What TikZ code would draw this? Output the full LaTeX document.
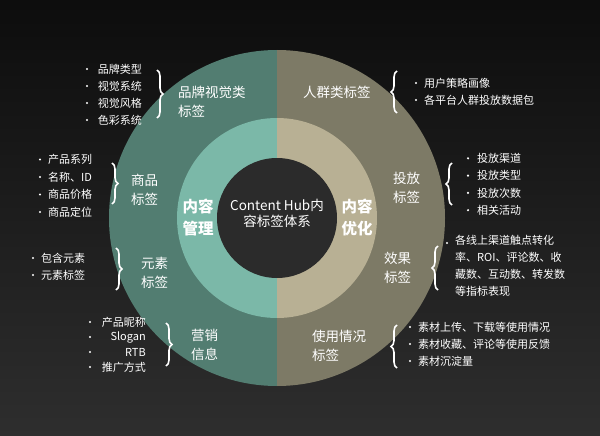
\documentclass[tikz,border=0pt]{standalone}
\usepackage{fontspec}
\setmainfont{Noto Sans CJK SC}
\usetikzlibrary{decorations.pathreplacing, positioning}
\definecolor{outerL}{HTML}{527D71}
\definecolor{outerR}{HTML}{7D7A66}
\definecolor{innerL}{HTML}{7BB8A8}
\definecolor{innerR}{HTML}{B8B094}
\definecolor{hubC}{HTML}{2B2B2B}
\tikzset{
  ringlabel/.style={text=white, font=\fontsize{13.5}{19}\selectfont, align=left, inner sep=0pt},
  item/.style={text=white, font=\fontsize{11}{12}\selectfont, inner sep=0pt},
  dot/.style={circle, fill=white, minimum size=2.4pt, inner sep=0pt},
  bracel/.style={draw=white, line width=1.6pt, decorate, decoration={brace, amplitude=6pt}},
}
\begin{document}
\begin{tikzpicture}[x=1pt, y=-1pt]
  % background
  \shade[top color=black!95, bottom color=black!82] (0,0) rectangle (600,436);
  \useasboundingbox (0,0) rectangle (600,436);

  % rings
  \fill[outerL] (277,50) arc[start angle=-90, end angle=-270, radius=168] -- cycle;
  \fill[outerR] (277,50) arc[start angle=-90, end angle=90, radius=168] -- cycle;
  \fill[innerL] (277,118) arc[start angle=-90, end angle=-270, radius=100] -- cycle;
  \fill[innerR] (277,118) arc[start angle=-90, end angle=90, radius=100] -- cycle;
  \fill[hubC] (277,218) circle[radius=60];

  \node[text=white, font=\fontsize{13.5}{16}\selectfont, align=center] (hub) at (277,213) {Content Hub内\\容标签体系};
  \node[text=white, font=\bfseries\fontsize{15.5}{22}\selectfont, align=center] (mgmt) at (198,218) {内容\\管理};
  \node[text=white, font=\bfseries\fontsize{15.5}{22}\selectfont, align=center] (optim) at (357,218) {内容\\优化};

  % left side
  \node[ringlabel, anchor=west] (brand) at (178,102) {品牌视觉类\\标签};
  \draw[bracel] (157,70) -- (157,118);
  \foreach \t [count=\i] in {品牌类型,视觉系统,视觉风格,色彩系统} {
    \node[item, anchor=east] (brand\i) at (142,52+17*\i) {\t};
    \node[dot] at (87,52+17*\i) {};
  }

  \node[ringlabel, anchor=west] (goods) at (131,190) {商品\\标签};
  \draw[bracel] (112,163) -- (112,204);
  \foreach \t [count=\i] in {产品系列,名称、ID,商品价格,商品定位} {
    \node[item, anchor=west] (goods\i) at (48,142+17.5*\i) {\t};
    \node[dot] at (40,142+17.5*\i) {};
  }

  \node[ringlabel, anchor=west] (elem) at (141,273) {元素\\标签};
  \draw[bracel] (116,248) -- (116,290);
  \foreach \t [count=\i] in {包含元素,元素标签} {
    \node[item, anchor=west] (elem\i) at (41,241+17*\i) {\t};
    \node[dot] at (33,241+17*\i) {};
  }

  \node[ringlabel, anchor=west] (mkt) at (191,345) {营销\\信息};
  \draw[bracel] (166,323) -- (166,366);
  \foreach \t [count=\i] in {产品昵称,Slogan,RTB,推广方式} {
    \node[item, anchor=east] (mkt\i) at (146,307+15*\i) {\t};
    \node[dot] at (90,307+15*\i) {};
  }

  % right side
  \node[ringlabel, anchor=west] (crowd) at (303,92) {人群类标签};
  \draw[bracel] (397,113) -- (397,71);
  \foreach \t [count=\i] in {用户策略画像,各平台人群投放数据包} {
    \node[item, anchor=west] (crowd\i) at (424,66+17*\i) {\t};
    \node[dot] at (416,66+17*\i) {};
  }

  \node[ringlabel, anchor=west] (place) at (393,188) {投放\\标签};
  \draw[bracel] (452,205) -- (452,163);
  \foreach \t [count=\i] in {投放渠道,投放类型,投放次数,相关活动} {
    \node[item, anchor=west] (place\i) at (477,141+17.3*\i) {\t};
    \node[dot] at (468,141+17.3*\i) {};
  }

  \node[ringlabel, anchor=west] (effect) at (384,268) {效果\\标签};
  \draw[bracel] (438,290) -- (438,246);
  \node[dot] at (447,243) {};
  \node[item, anchor=north west, align=left, font=\fontsize{11}{17}\selectfont] (effect1) at (455,235)
    {各线上渠道触点转化\\率、ROI、评论数、收\\藏数、互动数、转发数\\等指标表现};

  \node[ringlabel, anchor=west] (usage) at (312,346) {使用情况\\标签};
  \draw[bracel] (397,368) -- (397,325);
  \foreach \t [count=\i] in {素材上传、下载等使用情况,素材收藏、评论等使用反馈,素材沉淀量} {
    \node[item, anchor=west] (usage\i) at (418,310+17*\i) {\t};
    \node[dot] at (410,310+17*\i) {};
  }
\end{tikzpicture}
\end{document}
